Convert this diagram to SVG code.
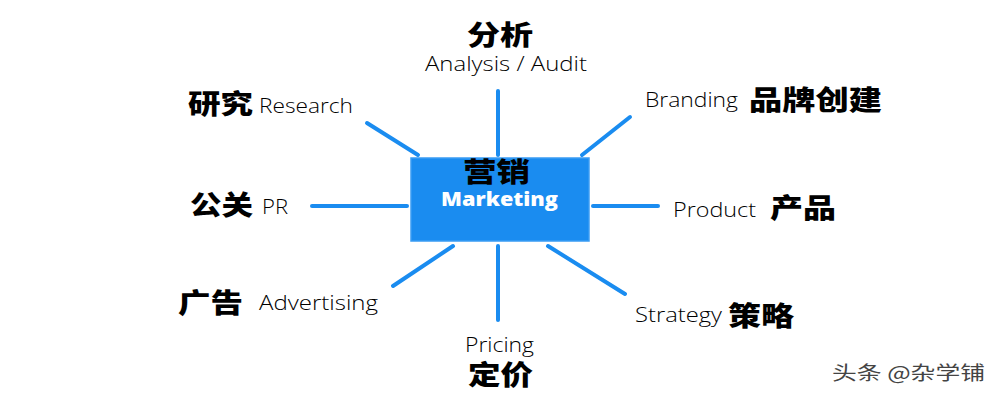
<svg xmlns="http://www.w3.org/2000/svg" width="1000" height="400" viewBox="0 0 1000 400">
<style>
.cn{font-family:"Noto Sans CJK SC","Noto Sans",sans-serif;font-weight:900;font-size:27px;fill:#000}
.en{font-family:"Open Sans","Lato",sans-serif;font-weight:300;font-size:21px;fill:#000}
.ln{stroke:#1a8cf0;stroke-width:4;stroke-linecap:round;fill:none}
</style>
<rect width="1000" height="400" fill="#fff"/>
<g id="connectors">
<line class="ln" x1="498" y1="91" x2="498" y2="155"/>
<line class="ln" x1="367" y1="123" x2="418" y2="155"/>
<line class="ln" x1="582" y1="155" x2="630" y2="117"/>
<line class="ln" x1="312" y1="206" x2="407" y2="206"/>
<line class="ln" x1="593" y1="206" x2="658" y2="206"/>
<line class="ln" x1="453" y1="246" x2="393" y2="286"/>
<line class="ln" x1="498" y1="246" x2="498" y2="320"/>
<line class="ln" x1="548" y1="246" x2="625" y2="294"/>
</g>
<g id="center">
<rect x="411" y="158" width="178" height="83" fill="#1a8cf0" stroke="#3a9cf4" stroke-width="1.5"/>
<text class="cn" x="463" y="182" font-size="25" textLength="67" lengthAdjust="spacingAndGlyphs">营销</text>
<text x="441" y="205.5" font-family="'Open Sans',Lato,sans-serif" font-weight="800" font-size="19.5" fill="#fff" textLength="117" lengthAdjust="spacingAndGlyphs">Marketing</text>
</g>
<g id="analysis">
<text class="cn" x="467" y="44.5" textLength="66" lengthAdjust="spacingAndGlyphs">分析</text>
<text class="en" x="425" y="71" textLength="162" lengthAdjust="spacingAndGlyphs">Analysis / Audit</text>
</g>
<g id="research">
<text class="cn" x="188" y="113.5" textLength="65" lengthAdjust="spacingAndGlyphs">研究</text>
<text class="en" x="259" y="113" textLength="94" lengthAdjust="spacingAndGlyphs">Research</text>
</g>
<g id="branding">
<text class="en" x="645" y="107" textLength="93" lengthAdjust="spacingAndGlyphs">Branding</text>
<text class="cn" x="749" y="109.5" textLength="133" lengthAdjust="spacingAndGlyphs">品牌创建</text>
</g>
<g id="pr">
<text class="cn" x="190" y="214.5" textLength="63" lengthAdjust="spacingAndGlyphs">公关</text>
<text class="en" x="262" y="214" textLength="26" lengthAdjust="spacingAndGlyphs">PR</text>
</g>
<g id="product">
<text class="en" x="673" y="217" textLength="83" lengthAdjust="spacingAndGlyphs">Product</text>
<text class="cn" x="770" y="217.5" textLength="66" lengthAdjust="spacingAndGlyphs">产品</text>
</g>
<g id="advertising">
<text class="cn" x="178" y="312.5" textLength="65" lengthAdjust="spacingAndGlyphs">广告</text>
<text class="en" x="259" y="310" textLength="119" lengthAdjust="spacingAndGlyphs">Advertising</text>
</g>
<g id="pricing">
<text class="en" x="465" y="351.5" font-size="20" textLength="69" lengthAdjust="spacingAndGlyphs">Pricing</text>
<text class="cn" x="468" y="385" font-size="26" textLength="65" lengthAdjust="spacingAndGlyphs">定价</text>
</g>
<g id="strategy">
<text class="en" x="635" y="322" textLength="87" lengthAdjust="spacingAndGlyphs">Strategy</text>
<text class="cn" x="728" y="325.5" textLength="66" lengthAdjust="spacingAndGlyphs">策略</text>
</g>
<text x="832" y="380" font-family="'Noto Sans CJK SC','Noto Sans',sans-serif" font-size="19" fill="#444" textLength="153" lengthAdjust="spacingAndGlyphs">头条 @杂学铺</text>
</svg>
